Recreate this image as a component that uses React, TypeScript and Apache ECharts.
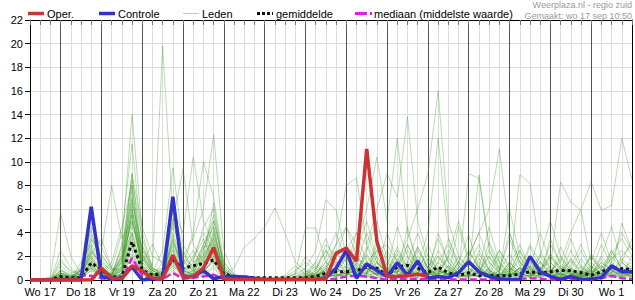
import React, { useEffect, useRef } from 'react';
import * as echarts from 'echarts';

const DAY_LABELS = ['Wo 17', 'Do 18', 'Vr 19', 'Za 20', 'Zo 21', 'Ma 22', 'Di 23', 'Wo 24', 'Do 25', 'Vr 26', 'Za 27', 'Zo 28', 'Ma 29', 'Di 30', 'Wo 1'];

// forecast hours since Wo 17 00:00
const HOURS = [6, 12, 18, 24, 30, 36, 42, 48, 54, 60, 66, 72, 78, 84, 90, 96, 102, 108, 114, 120, 126, 132, 138, 144, 150, 156, 162, 168, 174, 180, 186, 192, 198, 204, 210, 216, 222, 228, 234, 240, 246, 252, 258, 264, 270, 276, 282, 288, 294, 300, 306, 312, 318, 324, 330, 336, 342, 348, 354, 360];

const OPER = [0, 0, 0, 0, 0, 0, 0, 1.0, 0.15, 0.1, 1.2, 0.75, 0.15, 0.1, 2.1, 0.25, 0.3, 1.0, 2.75, 0.1, 0.05, 0.05, 0.05, 0.05, 0.05, 0.05, 0.05, 0.05, 0.05, 0.1, 2.25, 2.7, 1.6, 11.1, 3.25, 0.3, 0.3, 0.35, 0.5, 0.3];

const CONTROLE = [0, 0, 0, 0, 0, 0, 6.2, 0.3, 0.1, 0.2, 1.1, 0.0, 0.1, 0.15, 7.05, 0.3, 0.3, 0.8, 0.1, 0.3, 0.3, 0.25, 0.15, 0.05, 0.05, 0.05, 0.05, 0.05, 0.05, 0.2, 1.0, 2.5, 0.15, 1.35, 0.8, 0.3, 1.45, 0.4, 1.6, 0.15, 0.3, 0.2, 0.6, 1.55, 0.7, 0.3, 0.1, 0.05, 0.05, 2.0, 0.7, 0.3, 0.05, 0.3, 0.05, 0.1, 0.2, 1.2, 0.7, 0.7];

const GEMIDDELDE = [0, 0, 0.05, 0.3, 0.2, 0.2, 1.45, 0.85, 0.25, 0.25, 3.25, 0.85, 0.4, 0.55, 1.7, 1.0, 1.2, 1.4, 1.7, 0.5, 0.3, 0.25, 0.2, 0.2, 0.2, 0.2, 0.2, 0.2, 0.3, 0.57, 0.7, 0.7, 0.8, 1.1, 1.0, 0.4, 1.1, 1.25, 1.0, 0.6, 1.1, 0.6, 0.4, 0.6, 0.35, 0.4, 0.35, 0.35, 0.5, 0.7, 0.57, 0.7, 0.8, 0.8, 0.62, 0.4, 0.7, 1.0, 0.95, 0.9];

const MEDIAAN = [0, 0, 0, 0, 0, 0.4, 0.35, 0.15, 0.05, 0.1, 1.85, 0.4, 0.05, 0.05, 0.6, 0.1, 0.2, 0.3, 0.45, 0.05, 0, 0, 0, 0, 0, 0, 0, 0, 0, 0.05, 0.1, 0.3, 0.35, 0.3, 0.15, 0.05, 0.1, 0.1, 0.1, 0.05, 0.1, 0.05, 0.05, 0.05, 0.05, 0.05, 0.05, 0.05, 0.1, 0.15, 0.1, 0.05, 0.05, 0.1, 0.05, 0.05, 0.15, 0.35, 0.15, 0.1];

const M01 = [0, 0, 0.2, 0.6, 0.3, 0.8, 2.6, 1.2, 0.4, 2.0, 6.5, 2.8, 1.2, 19.8, 5.5, 1.8, 1.2, 3.0, 4.5, 0.8, 0.2, 0.1, 0, 0, 0, 0, 0.1, 0.3, 0.6, 1.2, 2.2, 1.5, 3.0, 1.0, 0.5, 2.0, 1.0, 0.4, 0.3, 1.2, 2.0, 0.8, 0.5, 1.5, 3.0, 0.8, 0.3, 0.6, 2.5, 1.0, 0.4, 0.8, 1.5, 0.5, 0.3, 1.0, 2.0, 1.2, 0.8, 1.0];
const M02 = [0, 0, 0, 1.2, 0.5, 0.2, 1.5, 0.8, 0.3, 3.0, 14.0, 4.0, 1.0, 0.5, 3.5, 0.6, 2.0, 4.0, 2.5, 0.3, 0.1, 0, 0, 0, 0, 0.2, 0.5, 1.0, 0.4, 0.2, 0.8, 2.5, 1.2, 4.0, 1.5, 0.5, 0.2, 1.0, 2.8, 1.0, 0.3, 0.2, 1.5, 3.8, 1.0, 0.4, 0.2, 0.5, 1.0, 3.0, 1.5, 0.4, 0.2, 1.8, 0.6, 0.3, 0.8, 2.2, 3.5, 2.0];
const M03 = [0, 0, 0, 0.3, 0.1, 1.0, 3.5, 2.0, 1.0, 4.0, 11.5, 3.0, 0.8, 1.0, 4.5, 2.0, 3.5, 6.0, 12.3, 2.5, 0.5, 0.2, 0, 0, 0, 0, 0, 0.2, 0.8, 2.5, 1.0, 0.5, 1.8, 0.6, 2.5, 1.0, 4.5, 2.0, 0.8, 0.5, 1.5, 3.0, 1.2, 0.6, 0.3, 1.0, 2.5, 1.2, 0.5, 0.3, 0.8, 2.2, 1.0, 0.5, 0.2, 0.4, 1.5, 0.8, 0.5, 0.6];
const M04 = [0, 0, 0.3, 5.7, 2.0, 0.5, 1.8, 0.6, 0.2, 1.5, 8.0, 2.2, 0.6, 2.5, 9.5, 3.0, 1.5, 2.0, 6.5, 1.0, 0.3, 0, 0, 0, 0.1, 0.4, 1.2, 0.5, 0.2, 0.8, 3.0, 4.5, 2.0, 1.0, 0.4, 0.3, 1.0, 2.5, 1.0, 0.4, 0.8, 0.5, 2.0, 1.0, 0.5, 3.2, 1.4, 0.6, 0.3, 1.2, 0.5, 0.4, 2.8, 1.0, 0.5, 0.8, 0.4, 1.5, 4.0, 2.5];
const M05 = [0, 0, 0, 0.8, 0.3, 1.2, 4.2, 1.0, 0.5, 2.5, 9.0, 4.5, 2.0, 1.5, 6.0, 4.0, 10.4, 5.0, 3.0, 0.6, 0.2, 0.1, 0, 0, 0, 0, 0, 0.1, 0.5, 1.5, 0.6, 1.2, 0.5, 2.8, 1.0, 0.5, 2.2, 0.8, 0.4, 3.0, 1.0, 0.5, 0.3, 2.0, 4.0, 1.5, 0.6, 0.3, 1.0, 0.5, 2.0, 0.8, 0.4, 1.2, 3.0, 1.0, 0.5, 0.3, 1.5, 0.8];
const M06 = [0, 0, 0, 0.2, 0.1, 0.6, 3.0, 1.5, 0.8, 1.0, 7.5, 1.0, 0.3, 0.8, 3.0, 1.2, 4.0, 10.0, 7.0, 1.5, 0.4, 0.2, 0.1, 0, 0, 0, 0.2, 0.6, 1.5, 0.5, 0.3, 0.8, 2.5, 5.0, 1.8, 0.6, 0.3, 1.5, 4.0, 1.5, 0.6, 0.3, 0.8, 1.5, 0.6, 0.4, 2.0, 0.8, 1.6, 0.6, 0.3, 3.5, 1.2, 0.5, 0.8, 2.0, 0.8, 0.4, 0.3, 0.5];
const M07 = [0, 0, 0, 1.5, 0.8, 0.4, 2.2, 3.5, 1.0, 0.5, 6.0, 1.5, 3.0, 1.2, 5.0, 9.4, 3.0, 1.5, 4.0, 0.8, 0.2, 0, 0, 0, 0, 0.1, 0.5, 2.0, 1.0, 0.4, 0.2, 0.6, 1.2, 0.5, 3.5, 1.5, 0.6, 4.5, 1.2, 0.5, 0.3, 2.5, 1.0, 0.4, 1.8, 0.6, 0.3, 1.5, 0.6, 2.0, 1.0, 0.4, 0.2, 0.8, 2.5, 0.8, 3.0, 1.2, 0.6, 0.3];
const M08 = [0, 0, 0, 0.4, 0.2, 1.5, 3.0, 2.5, 8.0, 3.5, 5.0, 1.2, 0.5, 0.3, 2.0, 0.8, 0.5, 2.5, 5.5, 1.0, 0.3, 0, 0, 0, 0, 0, 0, 0.3, 0.1, 1.0, 2.5, 1.0, 0.4, 0.2, 0.6, 2.5, 1.0, 0.4, 0.2, 0.8, 3.5, 1.5, 0.6, 0.3, 0.6, 2.5, 0.8, 4.0, 1.5, 0.5, 0.2, 0.6, 1.8, 0.6, 0.4, 1.2, 0.5, 2.5, 1.0, 0.6];
const M09 = [0, 0, 0, 0.1, 0.3, 0.8, 2.0, 0.6, 0.2, 1.0, 4.5, 2.0, 0.8, 0.4, 1.5, 0.5, 1.0, 1.8, 3.0, 0.5, 1.0, 2.8, 3.5, 4.5, 6.1, 4.0, 1.5, 0.8, 0.3, 0.6, 1.8, 0.6, 1.5, 0.8, 0.4, 1.2, 0.5, 0.2, 0.6, 1.8, 0.8, 0.3, 0.5, 1.5, 0.6, 0.3, 0.8, 2.2, 0.8, 1.5, 0.5, 0.3, 0.6, 1.8, 0.8, 0.4, 0.2, 0.6, 1.8, 1.0];
const M10 = [0, 0, 0, 0.3, 0.1, 0.2, 1.2, 0.5, 0.2, 0.8, 3.5, 0.6, 0.2, 0.5, 2.5, 0.4, 0.3, 1.5, 2.0, 0.2, 0, 0, 0, 0, 0, 0, 0, 0, 0.2, 0.5, 1.0, 0.5, 0.8, 1.5, 2.5, 3.0, 1.5, 3.5, 6.0, 9.0, 16.0, 5.0, 2.0, 1.0, 0.5, 0.3, 1.2, 0.6, 0.3, 1.5, 0.8, 0.4, 1.2, 0.6, 0.3, 0.5, 1.5, 0.8, 0.4, 0.6];
const M11 = [0, 0, 0, 0.2, 0, 0.3, 1.0, 0.3, 0.1, 0.6, 2.5, 0.5, 0.1, 0.3, 1.8, 0.2, 0.6, 2.0, 3.5, 0.6, 0.1, 0, 0, 0, 0, 0, 0, 0.4, 1.0, 2.5, 1.5, 1.0, 4.0, 3.0, 6.0, 9.0, 7.0, 13.8, 5.0, 2.0, 0.8, 0.4, 1.0, 2.5, 1.0, 0.5, 0.3, 0.8, 0.4, 0.2, 1.0, 1.5, 0.6, 0.3, 0.2, 0.6, 1.2, 0.5, 0.3, 0.4];
const M12 = [0, 0, 0, 0, 0, 0.4, 1.4, 0.4, 0.1, 1.2, 5.5, 1.0, 0.4, 0.2, 1.0, 0.3, 0.8, 2.6, 4.5, 0.4, 0, 0, 0, 0, 0, 0.3, 0.8, 1.5, 0.8, 3.0, 2.0, 4.5, 3.0, 6.0, 10.4, 5.0, 12.0, 4.0, 1.5, 0.6, 2.0, 1.0, 0.4, 0.3, 0.8, 2.0, 0.6, 0.3, 1.0, 0.5, 0.2, 0.8, 0.4, 2.5, 1.0, 0.5, 0.3, 1.0, 0.6, 0.3];
const M13 = [0, 0, 0, 0.6, 0.2, 0.1, 0.8, 0.2, 0.5, 1.8, 4.0, 0.8, 0.3, 0.6, 2.8, 0.8, 0.4, 1.2, 2.2, 0.3, 0.1, 0, 0, 0, 0, 0, 0, 0.2, 0.4, 0.8, 0.5, 0.3, 1.0, 2.0, 0.8, 0.4, 0.2, 0.6, 1.5, 0.5, 2.5, 1.0, 0.6, 2.0, 4.0, 6.0, 11.1, 4.0, 1.5, 0.8, 0.5, 2.0, 1.0, 0.6, 0.3, 1.0, 0.5, 2.0, 1.0, 0.6];
const M14 = [0, 0, 0, 0, 0, 0.2, 1.6, 0.8, 0.3, 0.5, 3.0, 1.5, 0.5, 0.2, 1.2, 0.6, 0.2, 0.8, 1.5, 0.2, 0, 0, 0, 0, 0, 0, 0, 0, 0.3, 1.2, 0.6, 2.0, 0.8, 0.4, 1.5, 0.6, 2.8, 1.0, 0.4, 0.2, 0.6, 1.8, 0.8, 0.4, 1.5, 0.6, 2.5, 1.0, 0.5, 2.0, 0.8, 3.0, 1.5, 4.0, 6.0, 8.3, 5.9, 6.3, 12.0, 8.5];
const M15 = [0, 0, 0, 0.8, 0.4, 0.2, 2.8, 1.0, 0.4, 0.8, 4.0, 1.8, 0.6, 0.3, 3.2, 1.0, 0.4, 0.8, 2.8, 0.4, 0.1, 0, 0, 0, 0, 0.2, 0.6, 4.4, 4.4, 1.5, 0.8, 2.5, 1.0, 0.5, 3.0, 1.2, 0.5, 0.3, 1.0, 2.2, 0.8, 0.4, 1.5, 0.6, 2.2, 0.8, 0.4, 1.0, 0.5, 2.8, 1.0, 0.6, 2.0, 0.8, 0.4, 0.3, 1.0, 2.5, 1.0, 0.6];
const M16 = [0, 0, 0, 0.5, 0.2, 0.6, 1.8, 0.6, 0.3, 1.5, 6.8, 2.5, 0.8, 0.4, 2.2, 0.8, 1.8, 3.5, 1.5, 0.3, 0, 0, 0, 0, 0, 0, 0.3, 1.0, 2.5, 6.8, 5.9, 2.0, 0.8, 1.5, 0.6, 0.4, 1.8, 0.6, 2.5, 1.0, 0.4, 0.2, 0.8, 9.0, 8.6, 3.0, 1.0, 0.5, 0.3, 1.2, 0.6, 0.3, 0.8, 1.6, 0.6, 2.0, 0.8, 0.4, 1.0, 1.5];
const M17 = [0, 0, 0, 0.3, 0.1, 0.3, 1.1, 0.4, 0.2, 0.5, 2.0, 0.4, 0.2, 0.2, 1.4, 0.3, 0.2, 0.6, 1.8, 0.2, 0, 0, 0, 0, 0, 0, 0, 0.2, 0.6, 1.5, 3.0, 8.0, 8.65, 3.0, 1.5, 0.6, 0.3, 0.8, 2.0, 1.0, 0.5, 3.5, 1.2, 0.5, 0.3, 1.0, 0.5, 0.3, 8.9, 8.2, 2.5, 1.0, 8.3, 6.6, 5.9, 1.5, 0.6, 0.3, 0.8, 1.2];
const M18 = [0, 0, 0, 0.1, 0, 0.4, 2.4, 1.2, 0.4, 2.2, 8.5, 3.5, 1.0, 0.6, 4.0, 1.5, 0.8, 1.2, 3.8, 0.8, 0.2, 0, 0, 0, 0, 0, 0, 0, 0.4, 0.8, 0.3, 0.6, 2.0, 1.0, 0.5, 0.3, 1.2, 3.0, 1.2, 4.0, 12.0, 3.5, 1.5, 0.8, 8.9, 2.5, 1.0, 0.4, 0.8, 0.3, 1.5, 0.6, 0.3, 1.0, 0.4, 2.2, 1.0, 0.5, 2.0, 3.0];
const M19 = [0, 0, 0, 2.5, 1.0, 0.3, 1.0, 0.3, 0.1, 0.6, 3.0, 0.8, 0.3, 0.2, 1.6, 0.4, 0.2, 0.5, 1.2, 0.1, 0, 0, 0, 0, 0, 0, 0, 0.5, 1.2, 0.6, 0.3, 1.0, 0.5, 2.2, 0.8, 0.4, 0.8, 0.4, 1.8, 0.8, 0.3, 1.2, 0.5, 0.3, 0.6, 1.5, 0.6, 6.0, 2.0, 0.8, 0.4, 1.2, 0.5, 0.3, 0.8, 0.4, 1.8, 0.8, 0.3, 0.6];
const M20 = [0, 0, 0, 1.8, 0.6, 0.8, 3.8, 1.8, 0.6, 2.8, 7.0, 1.2, 0.4, 0.8, 4.8, 2.2, 1.0, 3.0, 5.0, 1.2, 0.3, 0.1, 0, 0, 0, 0, 0, 0.1, 0.3, 1.0, 0.4, 0.3, 1.4, 0.6, 2.0, 0.8, 0.3, 1.2, 0.5, 1.5, 0.6, 2.0, 0.8, 0.5, 1.2, 0.4, 0.2, 1.0, 0.4, 0.8, 2.2, 1.0, 0.4, 0.2, 0.6, 0.3, 0.8, 1.8, 2.5, 1.6];
const M21 = [0, 0, 0, 0.6, 0.2, 0.5, 3.4, 2.2, 0.8, 1.5, 9.0, 2.0, 0.6, 0.3, 2.6, 0.6, 1.5, 4.5, 6.0, 0.8, 0.2, 0, 0, 0, 0, 0, 0, 0, 0.1, 0.4, 1.5, 0.6, 0.2, 1.0, 0.4, 1.5, 0.6, 2.0, 0.8, 0.3, 1.0, 0.4, 4.5, 1.5, 0.6, 0.3, 0.8, 0.4, 2.0, 0.6, 0.3, 1.0, 0.5, 0.3, 1.8, 0.6, 0.3, 0.8, 0.4, 2.0];
const M22 = [0, 0, 0, 0.2, 0.1, 0.8, 4.5, 2.8, 1.0, 0.8, 5.5, 0.8, 0.3, 1.5, 7.0, 1.8, 0.6, 2.2, 3.2, 0.6, 0.1, 0, 0, 0, 0, 0, 0, 0.3, 0.8, 0.3, 1.0, 0.4, 1.0, 0.5, 1.5, 0.6, 2.5, 1.0, 0.4, 0.8, 0.4, 1.2, 0.6, 0.3, 2.5, 0.8, 0.3, 1.5, 0.6, 0.3, 0.8, 2.0, 0.8, 0.4, 0.2, 0.5, 1.2, 0.6, 4.8, 2.5];
const M23 = [0, 0, 0, 0.9, 0.4, 0.2, 1.2, 0.5, 1.5, 4.5, 8.0, 1.5, 0.5, 0.2, 3.8, 0.8, 0.4, 1.0, 2.4, 0.4, 0, 0, 0, 0, 0, 0.1, 0.3, 0.6, 0.2, 0.2, 0.6, 1.8, 0.8, 0.4, 0.6, 0.3, 0.6, 1.6, 0.6, 0.3, 0.8, 0.5, 0.2, 0.5, 0.3, 0.8, 0.4, 1.2, 3.0, 1.0, 0.4, 0.6, 1.0, 0.4, 0.2, 0.8, 0.4, 0.3, 0.6, 0.4];
const M24 = [0, 0, 0, 0.4, 0.2, 0.6, 2.0, 0.8, 0.3, 1.2, 6.2, 1.0, 0.3, 0.5, 5.2, 1.2, 0.5, 1.5, 4.2, 0.6, 0.2, 0, 0, 0, 0, 0, 0, 0.2, 0.1, 0.3, 0.8, 0.5, 0.3, 1.2, 0.5, 0.2, 0.4, 0.8, 0.3, 0.6, 0.3, 0.2, 0.5, 1.6, 0.6, 0.3, 0.2, 0.4, 1.0, 0.4, 1.6, 0.6, 0.3, 0.8, 0.4, 1.2, 0.5, 0.3, 0.8, 0.5];
const M25 = [0, 0, 0, 0.1, 0, 0.2, 0.8, 0.4, 0.1, 0.5, 2.2, 0.6, 0.2, 0.1, 0.8, 0.2, 0.1, 0.4, 1.0, 0.1, 0, 0, 0, 0, 0, 0, 0, 0, 0, 0.2, 0.5, 0.2, 0.6, 0.3, 0.2, 0.5, 0.2, 0.4, 0.8, 0.3, 0.2, 0.6, 0.3, 0.2, 0.4, 0.2, 0.6, 0.3, 0.2, 0.4, 0.2, 0.5, 0.3, 0.2, 0.4, 0.2, 0.6, 0.3, 0.2, 0.3];
const M26 = [0, 0, 0, 0.3, 0.1, 1.0, 2.4, 1.4, 0.5, 2.0, 4.8, 2.6, 1.0, 0.4, 2.0, 0.5, 0.3, 1.8, 5.0, 1.5, 0.4, 0.1, 0, 0, 0, 0, 0, 0.1, 0.4, 0.6, 0.3, 0.8, 0.4, 0.2, 1.0, 0.5, 0.3, 0.6, 0.2, 1.0, 0.5, 0.8, 0.4, 0.2, 1.0, 0.5, 0.3, 0.6, 0.3, 1.0, 0.5, 0.3, 0.6, 0.3, 1.2, 0.5, 0.3, 1.0, 0.5, 0.8];
const M27 = [0, 0, 0, 0.5, 0.2, 0.3, 1.6, 0.6, 0.2, 0.8, 3.8, 1.2, 0.4, 1.0, 6.5, 2.5, 0.8, 0.5, 2.0, 0.3, 0.1, 0, 0, 0, 0, 0, 0.1, 0.4, 0.2, 1.0, 0.6, 0.3, 2.0, 1.0, 0.4, 1.0, 0.5, 0.3, 0.6, 0.4, 1.5, 0.6, 0.3, 0.8, 0.4, 0.2, 0.5, 0.3, 0.6, 0.3, 0.8, 0.4, 0.2, 0.5, 0.3, 0.8, 0.4, 0.6, 1.5, 0.8];
const M28 = [0, 0, 0, 0.2, 0.1, 0.4, 1.3, 0.5, 0.2, 1.6, 5.0, 1.8, 0.6, 0.3, 1.2, 0.4, 0.8, 2.8, 3.0, 0.8, 0.2, 0, 0, 0, 0, 0, 0, 0.3, 0.6, 0.2, 0.4, 0.6, 0.3, 0.6, 0.2, 0.4, 0.8, 0.3, 0.5, 0.6, 0.3, 0.5, 0.2, 0.4, 0.3, 0.6, 0.3, 0.2, 0.5, 0.3, 0.4, 0.3, 0.5, 0.2, 0.3, 0.6, 0.3, 0.2, 0.4, 0.3];
const M29 = [0, 0, 0, 0.6, 0.3, 0.2, 1.0, 0.4, 0.2, 1.0, 3.0, 0.6, 0.2, 0.3, 1.8, 0.5, 0.3, 0.8, 1.6, 0.2, 0, 0, 0, 0, 0, 0, 0.2, 0.8, 0.3, 2.0, 4.0, 1.5, 0.6, 2.5, 5.0, 1.8, 0.6, 3.0, 1.0, 0.5, 4.0, 1.5, 0.6, 2.5, 1.0, 4.5, 1.5, 0.6, 2.5, 1.0, 4.0, 1.5, 0.6, 3.5, 1.2, 0.5, 2.0, 4.5, 1.5, 3.5];
const M30 = [0, 0, 0, 0.3, 0.1, 0.8, 2.2, 1.0, 0.4, 1.8, 5.8, 2.2, 0.8, 0.4, 3.4, 1.2, 2.5, 1.0, 3.5, 0.6, 0.2, 0, 0, 0, 0, 0, 0, 0.3, 1.5, 3.5, 1.2, 2.5, 4.0, 1.5, 0.6, 4.0, 1.5, 0.6, 2.8, 1.0, 0.4, 2.0, 5.0, 1.8, 0.6, 2.0, 0.8, 3.5, 1.2, 0.5, 2.0, 5.0, 2.0, 0.8, 0.4, 1.5, 4.0, 1.5, 0.6, 1.0];

const LEDEN = [M01, M02, M03, M04, M05, M06, M07, M08, M09, M10, M11, M12, M13, M14, M15, M16, M17, M18, M19, M20, M21, M22, M23, M24, M25, M26, M27, M28, M29, M30];

const FONT = 'Arial, "Liberation Sans", Helvetica, sans-serif';

const pairs = (vals: number[]) => vals.map((v, i) => [HOURS[i], v]);

export default function App() {
  const ref = useRef<HTMLDivElement>(null);
  useEffect(() => {
    if (!ref.current) return;
    const chart = echarts.init(ref.current, undefined, { renderer: 'svg' });

    const memberSeries = LEDEN.map((m, k) => ({
      name: 'Leden',
      id: 'lid' + k,
      type: 'line',
      data: pairs(m),
      symbol: 'none',
      silent: true,
      z: 2,
      lineStyle: { color: 'rgba(50,145,20,0.33)', width: 1 },
    }));

    const legendY = 13.5;
    const legend: any[] = [
      { type: 'line', shape: { x1: 28, y1: legendY, x2: 44, y2: legendY }, style: { stroke: '#cc3333', lineWidth: 3.5 } },
      { type: 'text', x: 47, y: legendY, style: { text: 'Oper.', fill: '#000', font: '11px ' + FONT, textVerticalAlign: 'middle', verticalAlign: 'middle' } },
      { type: 'line', shape: { x1: 99, y1: legendY, x2: 115, y2: legendY }, style: { stroke: '#3333cc', lineWidth: 3.5 } },
      { type: 'text', x: 118, y: legendY, style: { text: 'Controle', fill: '#000', font: '11px ' + FONT, textVerticalAlign: 'middle', verticalAlign: 'middle' } },
      { type: 'line', shape: { x1: 183, y1: legendY, x2: 199, y2: legendY }, style: { stroke: '#b4d8a6', lineWidth: 1 } },
      { type: 'text', x: 202, y: legendY, style: { text: 'Leden', fill: '#000', font: '11px ' + FONT, textVerticalAlign: 'middle', verticalAlign: 'middle' } },
      { type: 'line', shape: { x1: 257, y1: legendY, x2: 273, y2: legendY }, style: { stroke: '#111', lineWidth: 3, lineDash: [3, 2] } },
      { type: 'text', x: 276, y: legendY, style: { text: 'gemiddelde', fill: '#000', font: '11px ' + FONT, textVerticalAlign: 'middle', verticalAlign: 'middle' } },
      { type: 'line', shape: { x1: 355, y1: legendY, x2: 372, y2: legendY }, style: { stroke: '#e020e0', lineWidth: 3, lineDash: [12, 3] } },
      { type: 'text', x: 374, y: legendY, style: { text: 'mediaan (middelste waarde)', fill: '#000', font: '11px ' + FONT, textVerticalAlign: 'middle', verticalAlign: 'middle' } },
      { type: 'text', x: 632, y: 5, style: { text: 'Weerplaza.nl - regio zuid', fill: '#9a9a9a', font: '9px ' + FONT, textAlign: 'right', align: 'right', textVerticalAlign: 'middle', verticalAlign: 'middle' } },
      { type: 'text', x: 632, y: 15.5, style: { text: 'Gemaakt: wo 17 sep 10:50', fill: '#9a9a9a', font: '9px ' + FONT, textAlign: 'right', align: 'right', textVerticalAlign: 'middle', verticalAlign: 'middle' } },
    ];

    chart.setOption({
      animation: false,
      backgroundColor: '#fff',
      grid: { left: 30, right: 2, top: 20, bottom: 20, containLabel: false },
      xAxis: [
        {
          type: 'value', min: 6, max: 360, interval: 6,
          axisLine: { show: true, onZero: false, lineStyle: { color: '#000', width: 1 } },
          axisTick: { show: true, length: 4, lineStyle: { color: '#000' } },
          axisLabel: {
            show: true, color: '#000', fontSize: 11, fontFamily: FONT, margin: 6,
            formatter: (v: number) => ((v - 12) % 24 === 0 ? DAY_LABELS[(v - 12) / 24] || '' : ''),
          },
          splitLine: { show: true, lineStyle: { color: ['#dcdcdc', '#dcdcdc', '#dcdcdc', '#555555'], width: 1 } },
        },
        {
          type: 'value', position: 'top', min: 6, max: 360, interval: 6,
          axisLine: { show: true, onZero: false, lineStyle: { color: '#000', width: 1 } },
          axisTick: { show: true, inside: true, length: 5, lineStyle: { color: '#777' } },
          axisLabel: { show: false },
          splitLine: { show: false },
        },
      ],
      yAxis: [
        {
          type: 'value', min: 0, max: 22, interval: 2,
          axisLine: { show: true, onZero: false, lineStyle: { color: '#000', width: 1 } },
          axisTick: { show: true, length: 5, lineStyle: { color: '#000' } },
          axisLabel: { color: '#000', fontSize: 11, fontFamily: FONT, margin: 7 },
          splitLine: { show: true, lineStyle: { color: '#dcdcdc', width: 1 } },
        },
        {
          type: 'value', position: 'right', min: 0, max: 22, interval: 2,
          axisLine: { show: true, onZero: false, lineStyle: { color: '#000', width: 1 } },
          axisTick: { show: false },
          axisLabel: { show: false },
          splitLine: { show: false },
        },
      ],
      graphic: legend,
      series: [
        ...memberSeries,
        {
          name: 'gemiddelde', type: 'line', data: pairs(GEMIDDELDE), symbol: 'none', silent: true, z: 3,
          lineStyle: { color: '#111', width: 3, type: [3, 3], cap: 'butt' },
        },
        {
          name: 'mediaan', type: 'line', data: pairs(MEDIAAN), symbol: 'none', silent: true, z: 4,
          lineStyle: { color: '#e020e0', width: 2.5, type: [7, 3], cap: 'butt' },
        },
        {
          name: 'Controle', type: 'line', data: pairs(CONTROLE), symbol: 'none', silent: true, z: 5,
          lineStyle: { color: '#3333cc', width: 3.5 },
        },
        {
          name: 'Oper.', type: 'line', data: pairs(OPER), symbol: 'none', silent: true, z: 6,
          lineStyle: { color: '#cc3333', width: 3.5 },
        },
      ],
    });
    return () => chart.dispose();
  }, []);

  return (
    <div
      ref={ref}
      style={{ position: 'absolute', left: 0, top: 0, width: 635, height: 300, background: '#fff' }}
    />
  );
}
